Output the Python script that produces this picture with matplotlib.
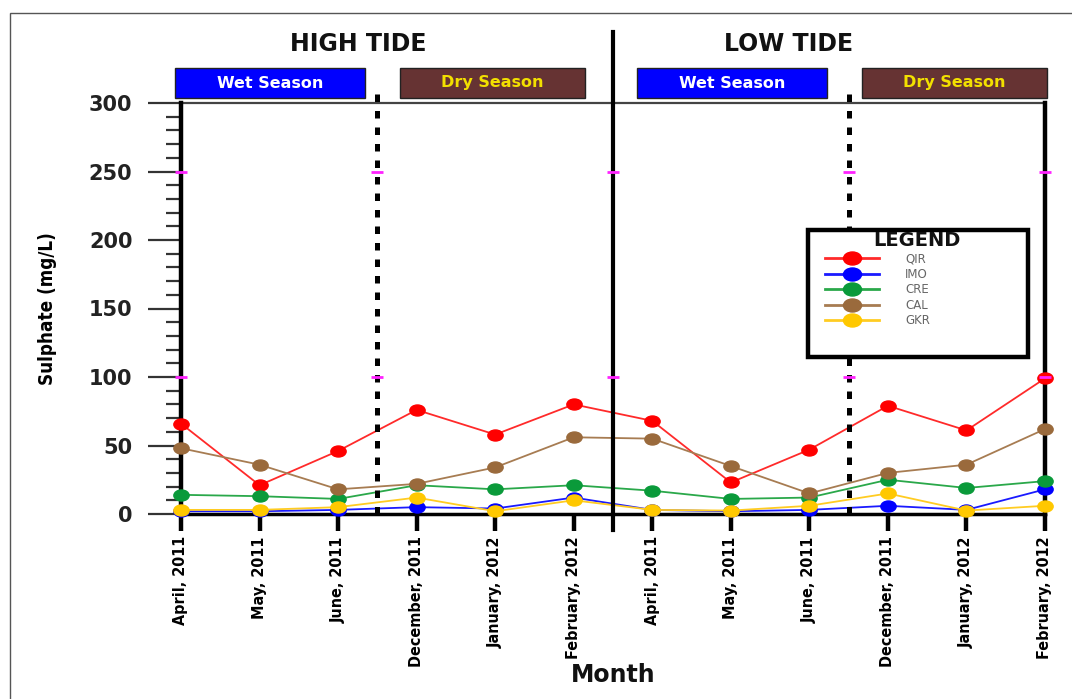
import matplotlib
matplotlib.use("Agg")
import matplotlib.pyplot as plt
from matplotlib.path import Path
from matplotlib.markers import MarkerStyle
from matplotlib.patches import Rectangle
from matplotlib.lines import Line2D
from matplotlib.ticker import MultipleLocator
import numpy as np

# ---- data -------------------------------------------------------------
months = ["April, 2011", "May, 2011", "June, 2011", "December, 2011",
          "January, 2012", "February, 2012",
          "April, 2011", "May, 2011", "June, 2011", "December, 2011",
          "January, 2012", "February, 2012"]
stations = ["QIR", "IMO", "CRE", "CAL", "GKR"]
qir = [66, 21, 46, 76, 58, 80, 68, 23, 47, 79, 61, 99]
imo = [2, 2, 3, 5, 4, 12, 3, 2, 3, 6, 3, 18]
cre = [14, 13, 11, 21, 18, 21, 17, 11, 12, 25, 19, 24]
cal = [48, 36, 18, 22, 34, 56, 55, 35, 15, 30, 36, 62]
gkr = [3, 3, 5, 12, 2, 10, 3, 2.5, 6, 15, 2.5, 6]
series = [qir, imo, cre, cal, gkr]
y_ticks = [0, 50, 100, 150, 200, 250, 300]

marker_colors = ["#ff0000", "#0000ff", "#0a9a3a", "#9a6a3c", "#ffc800"]
line_colors = ["#ff2a2a", "#1a1aff", "#2aa84a", "#a77c52", "#ffcc22"]

W, H = 1072, 699
fig = plt.figure(figsize=(W / 100, H / 100), dpi=100)
fig.patch.set_facecolor("white")

def fx(px):
    return px / W

def fy(py):
    return 1 - py / H

# outer frame
fig.patches.append(Rectangle((fx(10), fy(13) - 1.2), 1.2, 1.2,
                             transform=fig.transFigure, fill=False,
                             edgecolor="#555555", lw=1.0))

ax_l, ax_r, ax_t, ax_b = 181, 1045, 103, 514
ax = fig.add_axes([fx(ax_l), fy(ax_b), fx(ax_r - ax_l), (ax_b - ax_t) / H])

x = np.arange(len(months))
ax.set_xlim(0, len(months) - 1)
ax.set_ylim(0, 300)

# ellipse marker (wider than tall)
circ = Path.unit_circle()
ell = Path(circ.vertices * np.array([1.0, 0.72]), circ.codes)
ell_marker = MarkerStyle(ell)

for vals, mc, lc in zip(series, marker_colors, line_colors):
    ax.plot(x, vals, color=lc, lw=1.3, marker=ell_marker, markersize=11,
            markerfacecolor=mc, markeredgecolor=mc, clip_on=False, zorder=5)

# vertical separators
ax.axvline(5.5, ymin=-0.04, ymax=1.173, color="black", lw=3, clip_on=False, zorder=6)
for xs in (2.5, 8.5):
    ax.axvline(xs, ymin=0, ymax=1.037, color="black", lw=3.6,
               linestyle=(0, (1.5, 1.8)), clip_on=False, zorder=6)

# small magenta marks on the vertical lines
for xs in (0, 2.5, 5.5, 8.5, 11):
    ax.plot([xs, xs], [250, 100], linestyle="none", marker="_", markersize=8,
            markeredgewidth=2, color="#ff22ff", clip_on=False, zorder=7)

# spines
for side in ("left", "right"):
    ax.spines[side].set_linewidth(3.2)
    ax.spines[side].set_color("black")
ax.spines["bottom"].set_linewidth(2.5)
ax.spines["bottom"].set_color("black")
ax.spines["top"].set_linewidth(1.6)
ax.spines["top"].set_color("#444444")
ax.spines["top"].set_zorder(1)

# y axis
ax.yaxis.set_minor_locator(MultipleLocator(10))
ax.set_yticks(y_ticks)
ax.set_yticklabels([str(v) for v in y_ticks], fontsize=15,
                   fontweight="bold", color="#222222")
ax.tick_params(axis="y", which="major", direction="out", length=24, width=1.6,
               color="#333333", pad=11)
ax.tick_params(axis="y", which="minor", direction="out", length=11, width=1.6,
               color="#333333")

# x axis
ax.set_xticks(x)
ax.set_xticklabels(months, rotation=90, fontsize=11.5, fontweight="bold",
                   fontstretch="condensed", va="top", ha="center")
ax.tick_params(axis="x", which="major", direction="out", length=12, width=3.2,
               color="black", pad=4)

ax.set_xlabel("Month", fontsize=17, fontweight="bold", color="#111111")
ax.xaxis.set_label_coords(0.5, -0.362)
ax.set_ylabel("Sulphate (mg/L)", fontsize=13.5, fontweight="bold",
              fontstretch="condensed")
ax.yaxis.set_label_coords(-0.143, 0.5)

# headings
fig.text(fx(358), fy(44), "HIGH TIDE", ha="center", va="center",
         fontsize=17, fontweight="bold", color="#111111")
fig.text(fx(789), fy(44), "LOW TIDE", ha="center", va="center",
         fontsize=17, fontweight="bold", color="#111111")

# season boxes
def season_box(x0, x1, text, face, tcolor):
    fig.patches.append(Rectangle((fx(x0), fy(98)), fx(x1 - x0), 30 / H,
                                 transform=fig.transFigure, facecolor=face,
                                 edgecolor="#222222", lw=1.0))
    fig.text(fx((x0 + x1) / 2), fy(83), text, ha="center", va="center",
             fontsize=11.5, fontweight="bold", color=tcolor)

season_box(175, 365, "Wet Season", "#0000ff", "white")
season_box(400, 585, "Dry Season", "#663333", "#f2e000")
season_box(637, 827, "Wet Season", "#0000ff", "white")
season_box(862, 1047, "Dry Season", "#663333", "#f2e000")

# legend box
lg_l, lg_r, lg_t, lg_b = 808, 1028, 230, 357
fig.patches.append(Rectangle((fx(lg_l), fy(lg_b)), fx(lg_r - lg_l), (lg_b - lg_t) / H,
                             transform=fig.transFigure, facecolor="white",
                             edgecolor="black", lw=3.2, zorder=8))
fig.text(fx(917), fy(241), "LEGEND", ha="center", va="center",
         fontsize=14, fontweight="bold", color="#111111", zorder=9)
handles = [Line2D([], [], color=lc, lw=2, marker=ell_marker, markersize=13,
                  markerfacecolor=mc, markeredgecolor=mc)
           for mc, lc in zip(marker_colors, line_colors)]
leg = fig.legend(handles, stations, loc="upper left",
                 bbox_to_anchor=(fx(818), fy(245)), frameon=False,
                 fontsize=8.5, labelcolor="#666666", handlelength=4.6,
                 handletextpad=2.2, labelspacing=0.22, borderpad=0.1)
leg.set_zorder(9)

fig.savefig("out.png", dpi=100)
